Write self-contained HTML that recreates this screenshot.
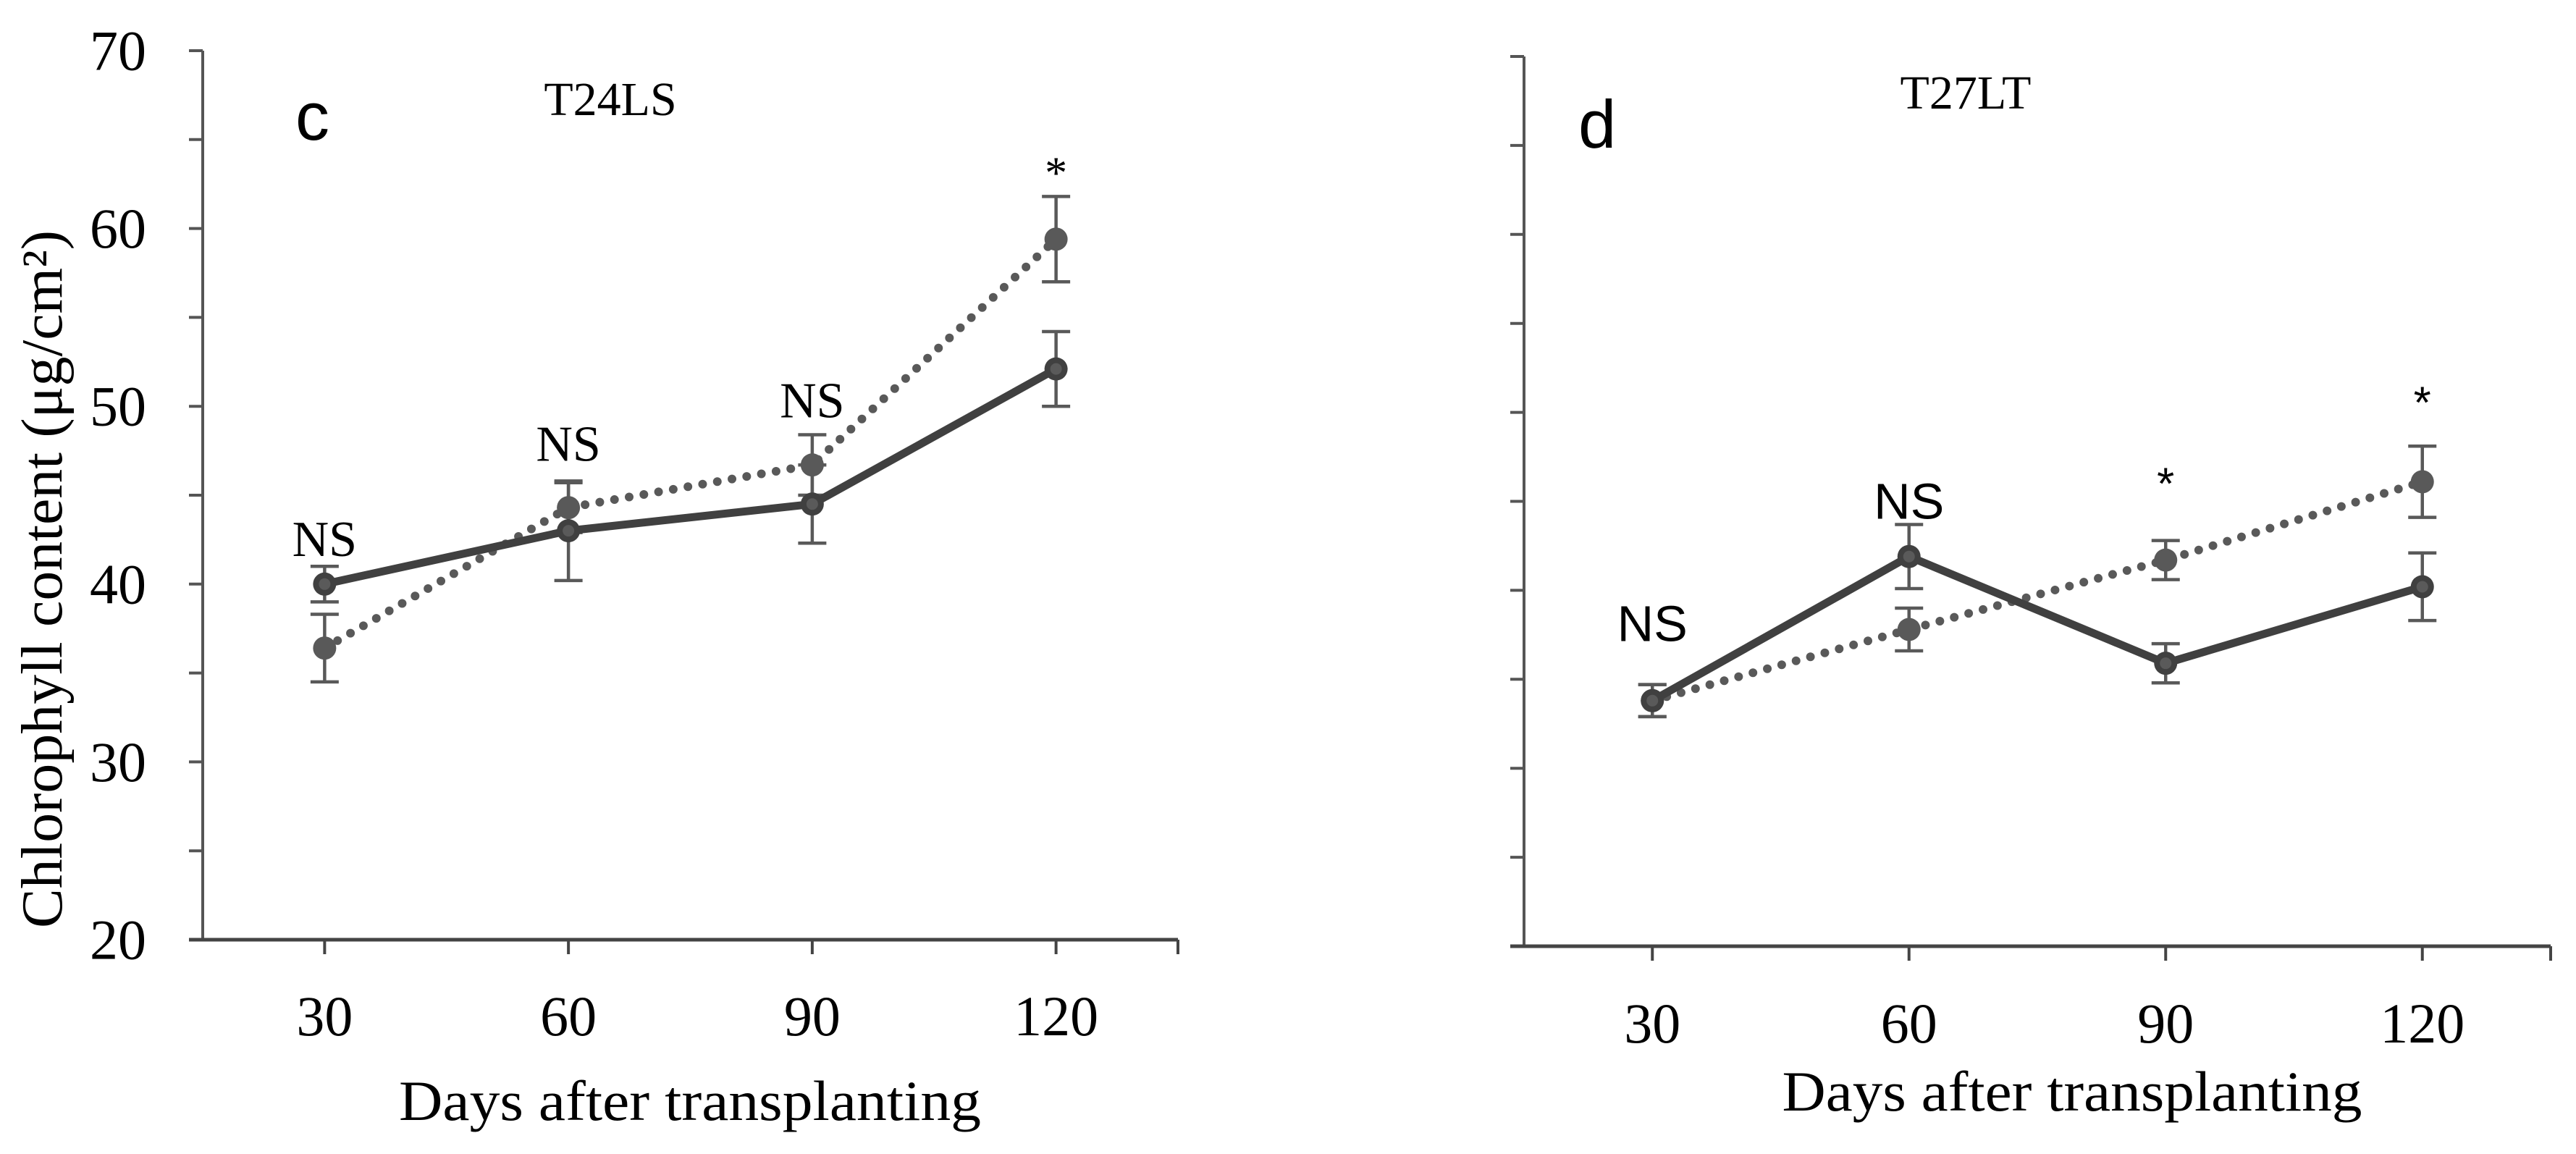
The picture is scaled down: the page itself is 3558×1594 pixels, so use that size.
<!DOCTYPE html>
<html><head><meta charset="utf-8"><style>
html,body{margin:0;padding:0;background:#fff;}
svg{display:block;}
</style></head><body>
<svg id="chart" width="3558" height="1594" viewBox="0 0 3558 1594" xmlns="http://www.w3.org/2000/svg">
<text x="59" y="800" transform="rotate(-90 59 800)" text-anchor="middle" font-family="Liberation Serif, serif" font-size="80" textLength="964" lengthAdjust="spacingAndGlyphs" dominant-baseline="central">Chlorophyll content (μg/cm²)</text>
<text x="953" y="1547" text-anchor="middle" font-family="Liberation Serif, serif" font-size="78" textLength="804" lengthAdjust="spacingAndGlyphs">Days after transplanting</text>
<text x="2862" y="1534" text-anchor="middle" font-family="Liberation Serif, serif" font-size="78" textLength="801" lengthAdjust="spacingAndGlyphs">Days after transplanting</text>
<text x="408" y="193" font-family="Liberation Sans, sans-serif" font-size="94">c</text>
<text x="2180" y="204" font-family="Liberation Sans, sans-serif" font-size="94">d</text>
<text x="843" y="159" text-anchor="middle" font-family="Liberation Serif, serif" font-size="66">T24LS</text>
<text x="2715" y="150" text-anchor="middle" font-family="Liberation Serif, serif" font-size="66">T27LT</text>
<g id="layer"></g>
</svg>
<script>
const categories = ["30", "60", "90", "120"];
const yTicks = [20, 30, 40, 50, 60, 70];
const cSolid = [40.0, 43.0, 44.5, 52.1];
const cSolidErr = [1.0, 2.8, 2.2, 2.1];
const cDotted = [36.4, 44.3, 46.7, 59.4];
const cDottedErr = [1.9, 1.4, 1.7, 2.4];
const cSig = ["NS", "NS", "NS", "*"];
const dSolid = [33.8, 41.9, 35.9, 40.2];
const dSolidErr = [0.9, 1.8, 1.1, 1.9];
const dDotted = [33.8, 37.8, 41.7, 46.1];
const dDottedErr = [0.9, 1.2, 1.1, 2.0];
const dSig = ["NS", "NS", "*", "*"];

const NS = "http://www.w3.org/2000/svg";
const layer = document.getElementById('layer');
function mk(tag, attrs, parent) {
  const e = document.createElementNS(NS, tag);
  for (const k in attrs) e.setAttribute(k, attrs[k]);
  (parent || layer).appendChild(e);
  return e;
}

function panel(p) {
  const g = mk('g', {});
  
  
  const ymin = 20, ymax = 70;
  const yS = v => p.bottom - (v - ymin) / (ymax - ymin) * (p.bottom - p.top);
  const band = (p.right - p.left) / categories.length;
  const xS = i => p.left + band * (i + 0.5);
  const axc = '#555';
  const ya = mk('line', {x1: p.left, y1: p.top, x2: p.left, y2: p.bottom, stroke: axc, 'stroke-width': 4}, g);
  
  
  for (let v = ymin; v <= ymax; v += 5) {
    const t = mk('line', {x1: p.left - 19, y1: yS(v), x2: p.left, y2: yS(v), stroke: axc, 'stroke-width': 4}, g);
    
    
  }
  if (p.labels) {
    yTicks.forEach(v => {
      const t = mk('text', {x: 202, y: yS(v), 'text-anchor': 'end', 'dominant-baseline': 'central', 'font-family': 'Liberation Serif, serif', 'font-size': 78}, g);
      t.textContent = v;
      
      
    });
  }
  const xa = mk('line', {x1: p.left - 19, y1: p.bottom, x2: p.right, y2: p.bottom, stroke: '#444', 'stroke-width': 5}, g);
  
  
  categories.forEach((c, i) => {
    const t = mk('line', {x1: xS(i), y1: p.bottom, x2: xS(i), y2: p.bottom + 20, stroke: '#444', 'stroke-width': 4}, g);
    
    
    const l = mk('text', {x: xS(i), y: p.labelY, 'text-anchor': 'middle', 'font-family': 'Liberation Serif, serif', 'font-size': 78}, g);
    l.textContent = c;
    
    
  });
  const t2 = mk('line', {x1: p.right, y1: p.bottom, x2: p.right, y2: p.bottom + 20, stroke: '#444', 'stroke-width': 4}, g);
  
  
  [[p.dotted, p.dottedErr], [p.solid, p.solidErr]].forEach(([vals, errs]) => {
    vals.forEach((v, i) => {
      const x = xS(i), y1 = yS(v + errs[i]), y2 = yS(v - errs[i]);
      const eb = mk('path', {d: `M${x},${y1}V${y2}M${x-19.5},${y1}H${x+19.5}M${x-19.5},${y2}H${x+19.5}`, stroke: '#595959', 'stroke-width': 4.5, fill: 'none'}, g);
      
      
    });
  });
  const dp = p.dotted.map((v, i) => `${xS(i)},${yS(v)}`).join(' ');
  const dl = mk('polyline', {points: dp, fill: 'none', stroke: '#595959', 'stroke-width': 12, 'stroke-linecap': 'round', 'stroke-dasharray': '0 20.6'}, g);
  
  
  p.dotted.forEach((v, i) => {
    const c = mk('circle', {cx: xS(i), cy: yS(v), r: 16, fill: '#595959'}, g);
    
    
  });
  const sp = p.solid.map((v, i) => `${xS(i)},${yS(v)}`).join(' ');
  const sl = mk('polyline', {points: sp, fill: 'none', stroke: '#404040', 'stroke-width': 11, 'stroke-linejoin': 'round'}, g);
  
  
  p.solid.forEach((v, i) => {
    const c = mk('circle', {cx: xS(i), cy: yS(v), r: 16, fill: '#404040'}, g);
    
    
    const c2 = mk('circle', {cx: xS(i), cy: yS(v), r: 8, fill: '#5a5a5a'}, g);
    
    
  });
  p.sig.forEach((s, i) => {
    const top = Math.max(p.solid[i] + p.solidErr[i], p.dotted[i] + p.dottedErr[i]);
    const isStar = s === '*';
    const t = mk('text', {x: xS(i), y: yS(top) - (isStar ? 30 : 24) + p.sigShift[i], 'text-anchor': 'middle',
      'font-family': p.sigFont, 'font-size': isStar ? 62 : 70}, g);
    t.textContent = s;
    
    
  });
}

panel({id: 'c', left: 280, right: 1627, top: 70, bottom: 1298, labels: true, labelY: 1430,
  solid: cSolid, solidErr: cSolidErr, dotted: cDotted, dottedErr: cDottedErr, sig: cSig,
  sigFont: 'Liberation Serif, serif', sigShift: [10, -4, 0, 18]});
panel({id: 'd', left: 2105, right: 3523, top: 78, bottom: 1307, labels: false, labelY: 1440,
  solid: dSolid, solidErr: dSolidErr, dotted: dDotted, dottedErr: dDottedErr, sig: dSig,
  sigFont: 'Liberation Sans, sans-serif', sigShift: [-36, 16, -27, -9]});
</script>
</body></html>
